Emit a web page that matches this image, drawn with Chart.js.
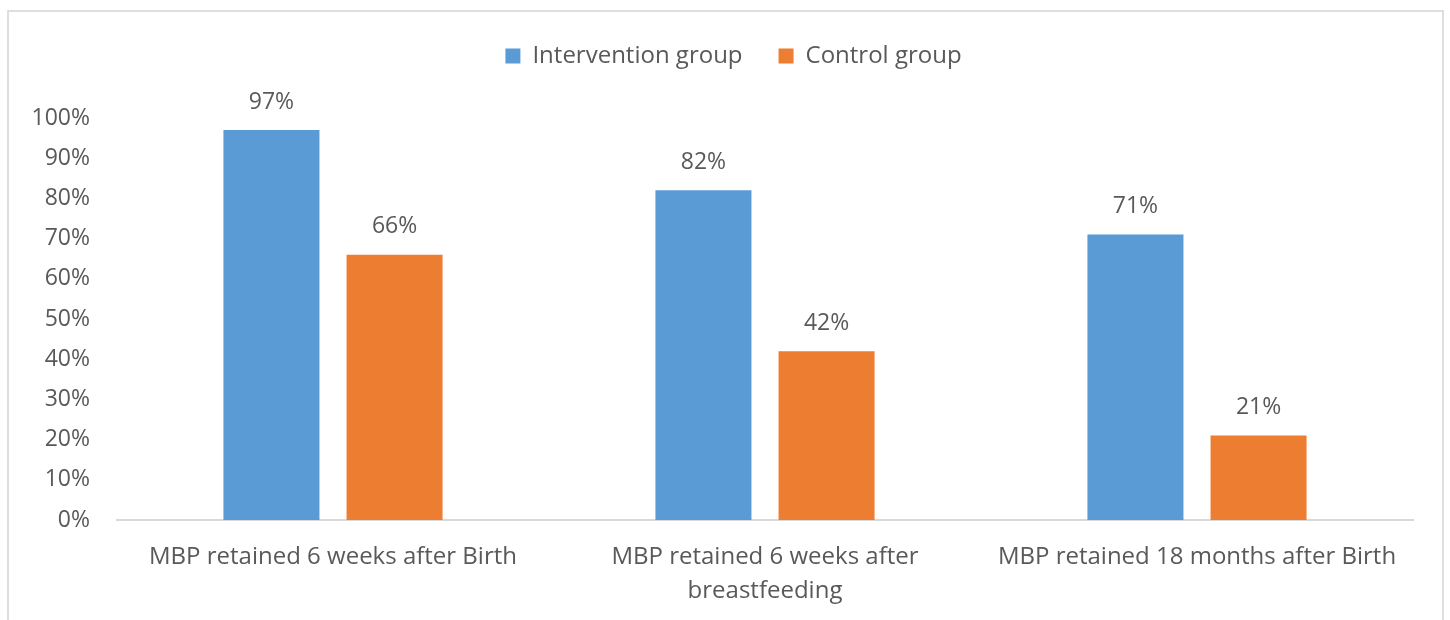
<!DOCTYPE html>
<html>
<head>
<meta charset="utf-8">
<script src="https://cdn.jsdelivr.net/npm/chart.js@4.4.1/dist/chart.umd.min.js"></script>
<style>
  html, body { margin: 0; padding: 0; background: #ffffff; width: 1450px; height: 620px; overflow: hidden; }
  #frame { position: absolute; left: 7px; top: 10px; width: 1437px; height: 640px; border: 2px solid #dedede; box-sizing: border-box; }
  #wrap { position: absolute; left: 0; top: 0; width: 1450px; height: 620px; }
</style>
</head>
<body>
<div id="frame"></div>
<div id="wrap"><canvas id="chart" width="1450" height="620"></canvas></div>
<script>
// Retention of MBP, intervention vs. control
const categories = [
  ['MBP retained 6 weeks after Birth'],
  ['MBP retained 6 weeks after', 'breastfeeding'],
  ['MBP retained 18 months after Birth']
];
const seriesNames = ['Intervention group', 'Control group'];
const interventionValues = [97, 82, 71];
const controlValues = [66, 42, 21];
const yTicks = [0, 10, 20, 30, 40, 50, 60, 70, 80, 90, 100];

const TEXT = '#595959';
const FONT = 'Open Sans';

// Writes each bar's percentage just above it
const valueLabels = {
  id: 'valueLabels',
  afterDatasetsDraw(chart) {
    const ctx = chart.ctx;
    ctx.save();
    ctx.font = '23px "' + FONT + '"';
    ctx.fillStyle = TEXT;
    ctx.textAlign = 'center';
    ctx.textBaseline = 'middle';
    chart.data.datasets.forEach((ds, di) => {
      const meta = chart.getDatasetMeta(di);
      meta.data.forEach((bar, i) => {
        ctx.fillText(ds.data[i] + '%', bar.x, bar.y - 28);
      });
    });
    ctx.restore();
  }
};

// Extra room under the legend, and the legend row centred over the plot
const legendSpacer = {
  id: 'legendSpacer',
  beforeLayout(chart) {
    const lg = chart.legend;
    if (lg && !lg._spaced) {
      const fit = lg.fit;
      lg.fit = function () { fit.call(this); this.height += 40; };
      lg._spaced = true;
    }
  },
  afterLayout(chart) {
    if (chart.legend) chart.legend.left += 54;
  }
};

new Chart(document.getElementById('chart'), {
  type: 'bar',
  data: {
    labels: categories,
    datasets: [
      {
        label: seriesNames[0],
        data: interventionValues,
        backgroundColor: '#5B9BD5',
        categoryPercentage: 0.57,
        barPercentage: 0.78
      },
      {
        label: seriesNames[1],
        data: controlValues,
        backgroundColor: '#ED7D31',
        categoryPercentage: 0.57,
        barPercentage: 0.78
      }
    ]
  },
  options: {
    responsive: false,
    animation: false,
    devicePixelRatio: 1,
    layout: { padding: { top: 8, right: 37, bottom: 0, left: 0 } },
    plugins: {
      legend: {
        position: 'top',
        align: 'center',
        labels: {
          boxWidth: 15,
          boxHeight: 15,
          padding: 36,
          color: TEXT,
          font: { family: FONT, size: 24 }
        }
      },
      tooltip: { enabled: false }
    },
    scales: {
      x: {
        grid: { display: false, drawTicks: false },
        border: { display: true, color: '#d9d9d9', width: 2 },
        ticks: {
          color: TEXT,
          font: { family: FONT, size: 24, lineHeight: 1.42 },
          padding: 20,
          maxRotation: 0,
          autoSkip: false
        },
        afterFit(scale) { scale.height = 100; }
      },
      y: {
        min: 0,
        max: 100,
        grid: { display: false, drawTicks: false },
        border: { display: false },
        afterBuildTicks(scale) { scale.ticks = yTicks.map(v => ({ value: v })); },
        ticks: {
          color: TEXT,
          font: { family: FONT, size: 23 },
          padding: 27,
          callback: v => v + '%'
        },
        afterFit(scale) { scale.width = 117; }
      }
    }
  },
  plugins: [valueLabels, legendSpacer]
});
</script>
</body>
</html>
